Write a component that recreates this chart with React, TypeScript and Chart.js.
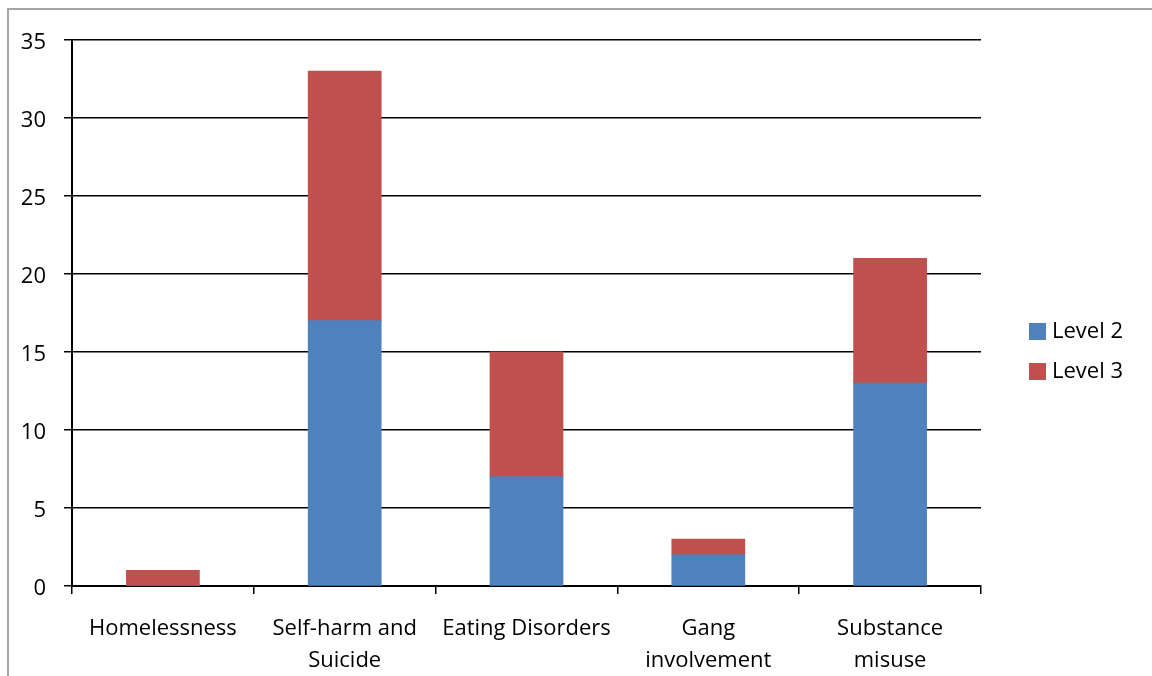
import React, { useEffect, useRef } from "react";
import { Chart, registerables } from "chart.js";

Chart.register(...registerables);

const categories: (string | string[])[] = [
  "Homelessness",
  ["Self-harm and", "Suicide"],
  "Eating Disorders",
  ["Gang", "involvement"],
  ["Substance", "misuse"],
];
const level2: number[] = [0, 17, 7, 2, 13];
const level3: number[] = [1, 16, 8, 1, 8];
const seriesNames: string[] = ["Level 2", "Level 3"];
const seriesColors: string[] = ["#4f81bd", "#c0504d"];

const FONT = "'Open Sans', Lato, sans-serif";
const FSIZE = 22;

const legendPlugin = {
  id: "customLegend",
  afterDraw(chart: any) {
    const ctx = chart.ctx;
    ctx.save();
    ctx.font = `${FSIZE}px ${FONT}`;
    ctx.textBaseline = "middle";
    ctx.textAlign = "left";
    seriesNames.forEach((name, i) => {
      const y = 323 + i * 40;
      ctx.fillStyle = seriesColors[i];
      ctx.fillRect(1029, y, 17, 17);
      ctx.fillStyle = "#000";
      ctx.fillText(name, 1052, y + 9);
    });
    ctx.restore();
  },
};

export default function App() {
  const ref = useRef<HTMLCanvasElement>(null);
  useEffect(() => {
    if (!ref.current) return;
    const chart = new Chart(ref.current, {
      type: "bar",
      data: {
        labels: categories,
        datasets: [
          {
            label: seriesNames[0],
            data: level2,
            backgroundColor: seriesColors[0],
            barPercentage: 0.4,
            categoryPercentage: 1,
            inflateAmount: 0.5,
          },
          {
            label: seriesNames[1],
            data: level3,
            backgroundColor: seriesColors[1],
            barPercentage: 0.4,
            categoryPercentage: 1,
            inflateAmount: 0.5,
          },
        ],
      },
      options: {
        responsive: false,
        animation: false,
        layout: { padding: { left: 0, right: 171, top: 40, bottom: 0 } },
        plugins: { legend: { display: false }, tooltip: { enabled: false } },
        scales: {
          x: {
            stacked: true,
            afterFit: (s: any) => {
              s.height = 90;
            },
            grid: {
              drawOnChartArea: false,
              drawTicks: true,
              tickLength: 8,
              color: "#000",
              lineWidth: 1.5,
              offset: true,
            },
            border: { display: true, color: "#000", width: 2 },
            ticks: {
              color: "#000",
              font: { family: FONT, size: FSIZE, lineHeight: 1.45 },
              padding: 19,
              maxRotation: 0,
              autoSkip: false,
            },
          },
          y: {
            stacked: true,
            min: 0,
            max: 35,
            afterFit: (s: any) => {
              s.width = 72;
            },
            grid: {
              color: "#000",
              lineWidth: 1.5,
              drawTicks: true,
              tickLength: 8,
            },
            border: { display: true, color: "#000", width: 2 },
            ticks: {
              stepSize: 5,
              color: "#000",
              font: { family: FONT, size: FSIZE },
              padding: 18,
              labelOffset: 3,
            },
          },
        },
      },
      plugins: [legendPlugin],
    });
    return () => chart.destroy();
  }, []);
  return (
    <div style={{ position: "fixed", left: 0, top: 0, width: 1152, height: 676, background: "#fff", overflow: "hidden" }}>
      <canvas ref={ref} width={1152} height={676} style={{ position: "absolute", left: 0, top: 0 }} />
      <div
        style={{
          position: "absolute",
          left: 7,
          top: 8,
          width: 1200,
          height: 700,
          borderLeft: "2px solid #a6a6a6",
          borderTop: "2px solid #a6a6a6",
          pointerEvents: "none",
        }}
      />
    </div>
  );
}
